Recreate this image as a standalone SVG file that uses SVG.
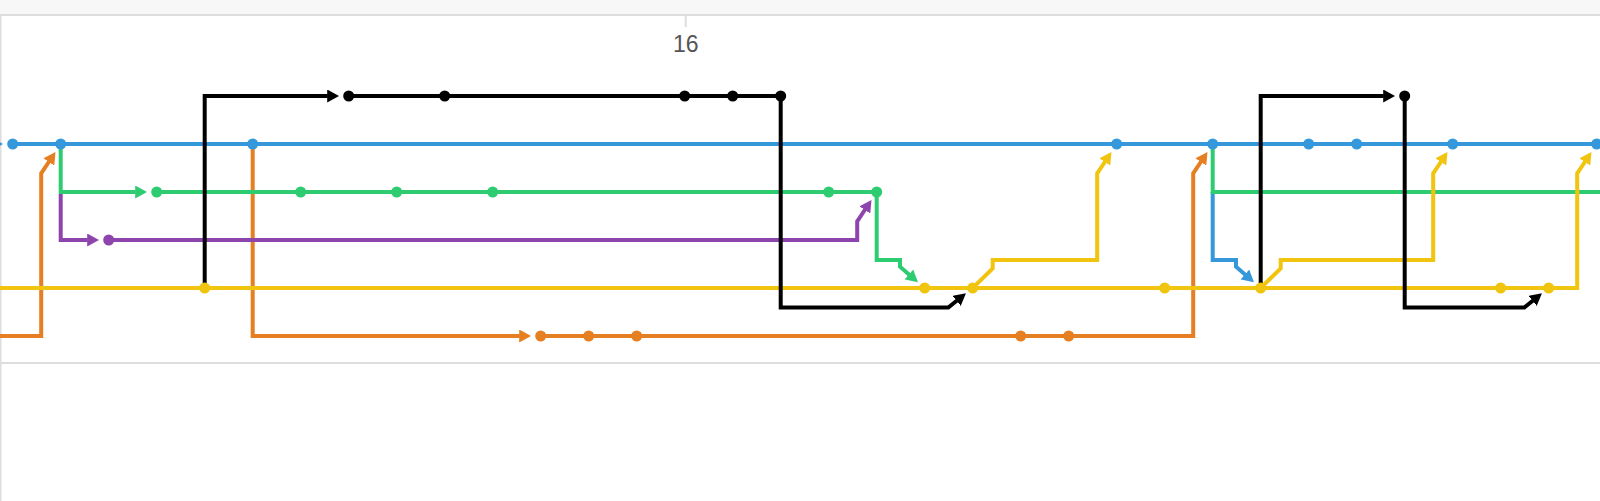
<svg xmlns="http://www.w3.org/2000/svg" width="1600" height="501" viewBox="0 0 1600 501">
  <style>
    .ln { fill: none; stroke-width: 4; stroke-linejoin: miter; stroke-linecap: butt; }
    .black { stroke: #000000; }
    .blue { stroke: #3498db; }
    .green { stroke: #2ecc71; }
    .purple { stroke: #8e44ad; }
    .yellow { stroke: #f1c40f; }
    .orange { stroke: #e67e22; }
    .n-black { fill: #000000; }
    .n-blue { fill: #3498db; }
    .n-green { fill: #2ecc71; }
    .n-purple { fill: #8e44ad; }
    .n-yellow { fill: #f1c40f; }
    .n-orange { fill: #e67e22; }
    .axis-label { font-family: "Liberation Sans", Arial, sans-serif; font-size: 23px; fill: #555555; text-anchor: middle; }
  </style>
  <defs>
    <marker id="ah-black" viewBox="0 0 12 13" refX="0.5" refY="6.5" markerWidth="12" markerHeight="13" orient="auto" markerUnits="userSpaceOnUse"><path d="M0,0 L12,6.5 L0,13 z" fill="#000000"/></marker>
    <marker id="ah-blue" viewBox="0 0 12 13" refX="0.5" refY="6.5" markerWidth="12" markerHeight="13" orient="auto" markerUnits="userSpaceOnUse"><path d="M0,0 L12,6.5 L0,13 z" fill="#3498db"/></marker>
    <marker id="ah-green" viewBox="0 0 12 13" refX="0.5" refY="6.5" markerWidth="12" markerHeight="13" orient="auto" markerUnits="userSpaceOnUse"><path d="M0,0 L12,6.5 L0,13 z" fill="#2ecc71"/></marker>
    <marker id="ah-purple" viewBox="0 0 12 13" refX="0.5" refY="6.5" markerWidth="12" markerHeight="13" orient="auto" markerUnits="userSpaceOnUse"><path d="M0,0 L12,6.5 L0,13 z" fill="#8e44ad"/></marker>
    <marker id="ah-yellow" viewBox="0 0 12 13" refX="0.5" refY="6.5" markerWidth="12" markerHeight="13" orient="auto" markerUnits="userSpaceOnUse"><path d="M0,0 L12,6.5 L0,13 z" fill="#f1c40f"/></marker>
    <marker id="ah-orange" viewBox="0 0 12 13" refX="0.5" refY="6.5" markerWidth="12" markerHeight="13" orient="auto" markerUnits="userSpaceOnUse"><path d="M0,0 L12,6.5 L0,13 z" fill="#e67e22"/></marker>
  </defs>

  <g id="frame">
    <rect x="0" y="0" width="1600" height="501" fill="#ffffff"/>
    <rect x="0" y="0" width="1600" height="14" fill="#f7f7f7"/>
    <rect x="0" y="14" width="1600" height="2" fill="#dddddd"/>
    <rect x="0" y="362" width="1600" height="2" fill="#dddddd"/>
    <rect x="0" y="14" width="1.5" height="487" fill="#dddddd"/>
  </g>

  <g id="axis">
    <rect x="684.7" y="16" width="2" height="11" fill="#dddddd"/>
    <text class="axis-label" x="685.7" y="51.5">16</text>
  </g>

  <g id="connectors">
    <!-- orange -->
    <path class="ln orange" d="M-5,336 H41.2 V173.3 L49.1,161.5" marker-end="url(#ah-orange)"/>
    <path class="ln orange" d="M252.7,144 V336 H519.7" marker-end="url(#ah-orange)"/>
    <path class="ln orange" d="M540.7,336 H1193.2 V173.3 L1201.1,161.5" marker-end="url(#ah-orange)"/>
    <!-- purple -->
    <path class="ln purple" d="M60.7,194 V240 H87.7" marker-end="url(#ah-purple)"/>
    <path class="ln purple" d="M108.7,240 H857.2 V221.3 L865.1,209.5" marker-end="url(#ah-purple)"/>
    <!-- blue -->
    <path class="ln blue" d="M-30,144 H-8.3" marker-end="url(#ah-blue)"/>
    <path class="ln blue" d="M12.7,144 H1600"/>
    <path class="ln blue" d="M1212.7,192 V260 H1236 V266.7 L1245.3,274.8" marker-end="url(#ah-blue)"/>
    <!-- green -->
    <path class="ln green" d="M60.7,144 V192 H135.7" marker-end="url(#ah-green)"/>
    <path class="ln green" d="M156.7,192 H876.7 V260 H900 V266.7 L909.3,274.8" marker-end="url(#ah-green)"/>
    <path class="ln green" d="M1212.7,144 V192 H1600"/>
    <!-- yellow -->
    <path class="ln yellow" d="M-5,288 H1577.2 V173.3 L1585.1,161.5" marker-end="url(#ah-yellow)"/>
    <path class="ln yellow" d="M972.7,288 L992.7,268.3 V260 H1097.2 V173.3 L1105.1,161.5" marker-end="url(#ah-yellow)"/>
    <path class="ln yellow" d="M1260.7,288 L1280.7,268.3 V260 H1433.2 V173.3 L1441.1,161.5" marker-end="url(#ah-yellow)"/>
    <!-- black -->
    <path class="ln black" d="M204.7,288 V96 H327.7" marker-end="url(#ah-black)"/>
    <path class="ln black" d="M348.7,96 H780.7 V307.5 H948.3 L957,300.5" marker-end="url(#ah-black)"/>
    <path class="ln black" d="M1260.7,288 V96 H1383.7" marker-end="url(#ah-black)"/>
    <path class="ln black" d="M1404.7,96 V307.5 H1524.3 L1533,300.5" marker-end="url(#ah-black)"/>
  </g>

  <g id="nodes">
    <g id="blue-0"><circle class="n-blue" cx="12.7" cy="144" r="5.5"/></g>
    <g id="blue-1"><circle class="n-blue" cx="60.7" cy="144" r="5.5"/></g>
    <g id="blue-5"><circle class="n-blue" cx="252.7" cy="144" r="5.5"/></g>
    <g id="blue-23"><circle class="n-blue" cx="1116.7" cy="144" r="5.5"/></g>
    <g id="blue-25"><circle class="n-blue" cx="1212.7" cy="144" r="5.5"/></g>
    <g id="blue-27"><circle class="n-blue" cx="1308.7" cy="144" r="5.5"/></g>
    <g id="blue-28"><circle class="n-blue" cx="1356.7" cy="144" r="5.5"/></g>
    <g id="blue-30"><circle class="n-blue" cx="1452.7" cy="144" r="5.5"/></g>
    <g id="blue-33"><circle class="n-blue" cx="1596.7" cy="144" r="5.5"/></g>

    <g id="black-7"><circle class="n-black" cx="348.7" cy="96" r="5.5"/></g>
    <g id="black-9"><circle class="n-black" cx="444.7" cy="96" r="5.5"/></g>
    <g id="black-14"><circle class="n-black" cx="684.7" cy="96" r="5.5"/></g>
    <g id="black-15"><circle class="n-black" cx="732.7" cy="96" r="5.5"/></g>
    <g id="black-16"><circle class="n-black" cx="780.7" cy="96" r="5.5"/></g>
    <g id="black-29"><circle class="n-black" cx="1404.7" cy="96" r="5.5"/></g>

    <g id="green-3"><circle class="n-green" cx="156.7" cy="192" r="5.5"/></g>
    <g id="green-6"><circle class="n-green" cx="300.7" cy="192" r="5.5"/></g>
    <g id="green-8"><circle class="n-green" cx="396.7" cy="192" r="5.5"/></g>
    <g id="green-10"><circle class="n-green" cx="492.7" cy="192" r="5.5"/></g>
    <g id="green-17"><circle class="n-green" cx="828.7" cy="192" r="5.5"/></g>
    <g id="green-18"><circle class="n-green" cx="876.7" cy="192" r="5.5"/></g>

    <g id="purple-2"><circle class="n-purple" cx="108.7" cy="240" r="5.5"/></g>

    <g id="yellow-4"><circle class="n-yellow" cx="204.7" cy="288" r="5.5"/></g>
    <g id="yellow-19"><circle class="n-yellow" cx="924.7" cy="288" r="5.5"/></g>
    <g id="yellow-20"><circle class="n-yellow" cx="972.7" cy="288" r="5.5"/></g>
    <g id="yellow-24"><circle class="n-yellow" cx="1164.7" cy="288" r="5.5"/></g>
    <g id="yellow-26"><circle class="n-yellow" cx="1260.7" cy="288" r="5.5"/></g>
    <g id="yellow-31"><circle class="n-yellow" cx="1500.7" cy="288" r="5.5"/></g>
    <g id="yellow-32"><circle class="n-yellow" cx="1548.7" cy="288" r="5.5"/></g>

    <g id="orange-11"><circle class="n-orange" cx="540.7" cy="336" r="5.5"/></g>
    <g id="orange-12"><circle class="n-orange" cx="588.7" cy="336" r="5.5"/></g>
    <g id="orange-13"><circle class="n-orange" cx="636.7" cy="336" r="5.5"/></g>
    <g id="orange-21"><circle class="n-orange" cx="1020.7" cy="336" r="5.5"/></g>
    <g id="orange-22"><circle class="n-orange" cx="1068.7" cy="336" r="5.5"/></g>
  </g>
</svg>
